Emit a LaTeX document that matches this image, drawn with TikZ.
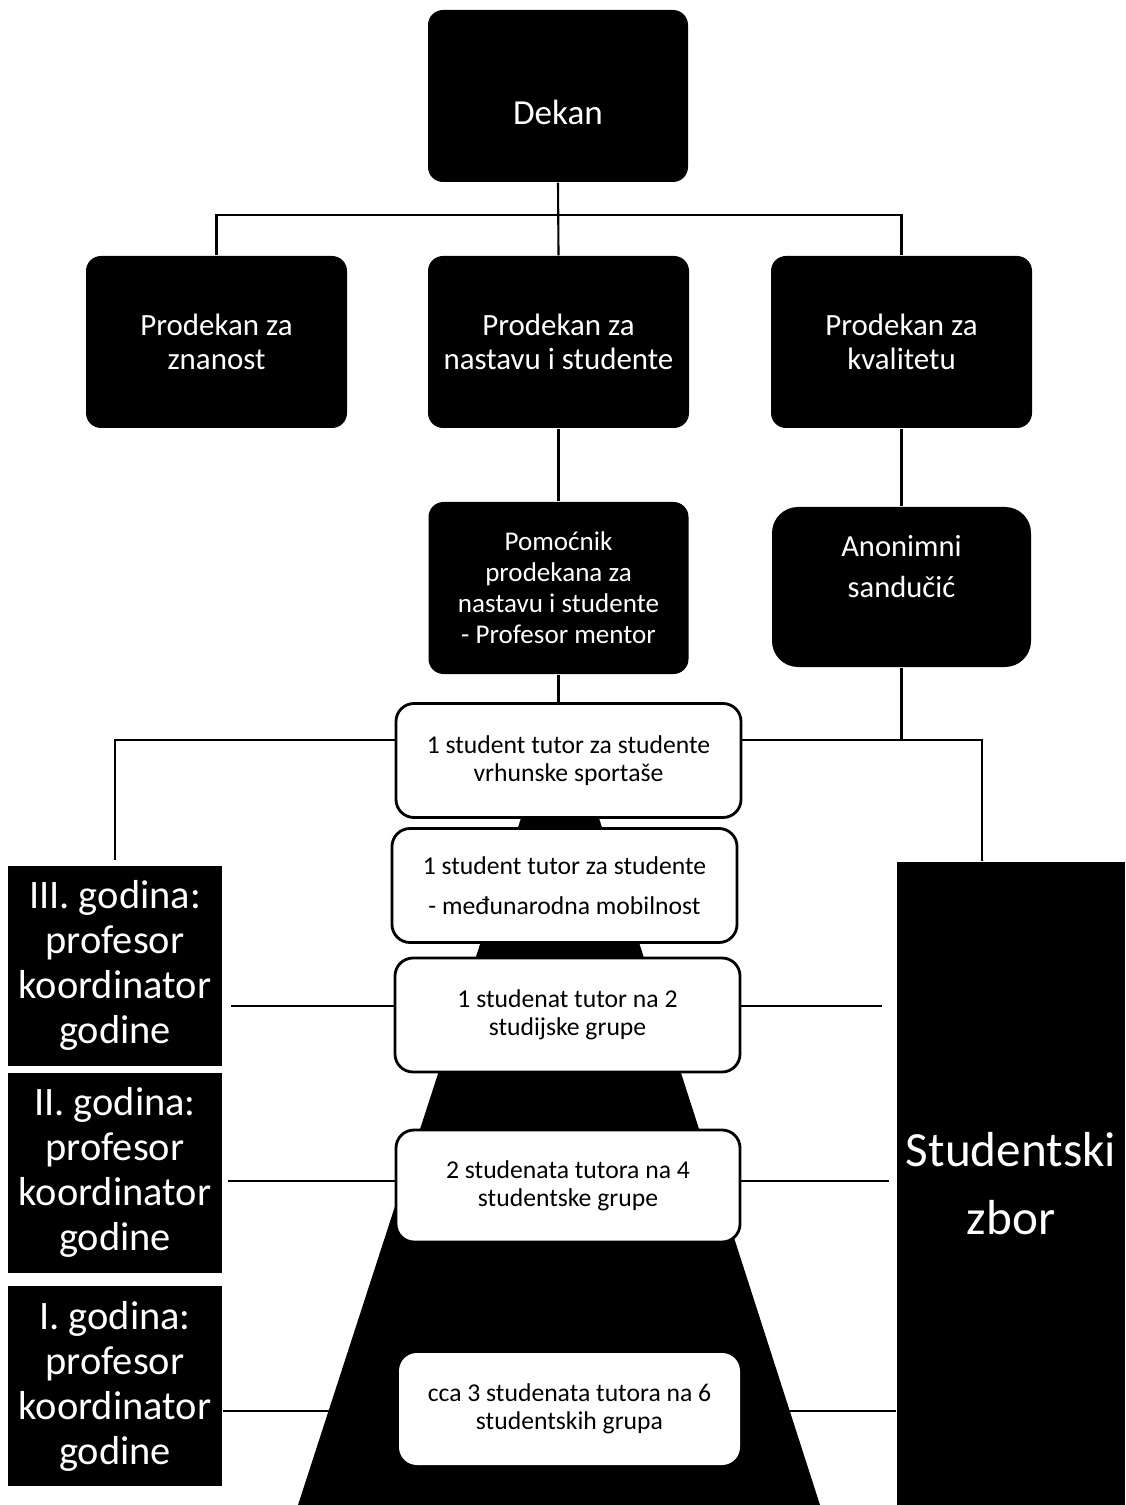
\documentclass[tikz,border=0pt]{standalone}
\usepackage{fontspec}
\setmainfont{Carlito}
\usepackage{tikz}
\usetikzlibrary{positioning}
\definecolor{crni}{RGB}{0, 0, 0}
\definecolor{bijeli}{RGB}{255, 255, 255}
\tikzset{
    uprava/.style={rectangle, rounded corners=0.15cm, fill=crni, text=bijeli, align=center, minimum width=2.6cm, minimum height=1.72cm, inner sep=1pt},
    tutor/.style={rectangle, rounded corners=0.18cm, draw=crni, fill=bijeli, line width=0.8pt, align=center, minimum width=3.45cm, minimum height=1.14cm, inner sep=1pt, font=\fontsize{7.3}{8}\selectfont},
    godina/.style={rectangle, fill=crni, text=bijeli, align=center, minimum width=2.14cm, minimum height=2cm, inner sep=1pt, font=\fontsize{11.5}{12.8}\selectfont},
    conn/.style={-, crni, line width=0.6pt},
}
\begin{document}
\begin{tikzpicture}
    \useasboundingbox (0,0) rectangle (11.25,-15.05);

    \node [uprava, label={[bijeli, yshift=-0.16cm, font=\fontsize{10}{12}\selectfont]center:Dekan}] (dek) at (5.58,-0.96) {};

    \node [uprava, minimum width=2.61cm, font=\fontsize{8.8}{9.8}\selectfont] (pz) at (2.165,-3.42) {Prodekan za\\znanost};
    \node [uprava, minimum width=2.61cm, font=\fontsize{8.8}{9.8}\selectfont] (pn) at (5.585,-3.42) {Prodekan za\\nastavu i studente};
    \node [uprava, minimum width=2.61cm, font=\fontsize{8.8}{9.8}\selectfont] (pk) at (9.015,-3.42) {Prodekan za\\kvalitetu};

    \node [uprava, font=\fontsize{7.7}{8.8}\selectfont] (pom) at (5.585,-5.88) {Pomoćnik\\prodekana za\\nastavu i studente\\- Profesor mentor};
    \node [uprava, rounded corners=0.26cm, minimum width=2.59cm, minimum height=1.6cm,
           label={[bijeli, yshift=0.2cm, align=center, font=\fontsize{8.7}{11.7}\selectfont]center:Anonimni\\sandučić}] (anon) at (9.015,-5.87) {};

    \node [godina] (y3) at (1.15,-9.655) {III. godina:\\profesor\\koordinator\\godine};
    \node [godina] (y2) at (1.15,-11.725) {II. godina:\\profesor\\koordinator\\godine};
    \node [godina] (y1) at (1.15,-13.86) {I. godina:\\profesor\\koordinator\\godine};

    \node [godina, minimum width=2.28cm, minimum height=6.43cm, font=\fontsize{14}{19.3}\selectfont] (sz) at (10.11,-11.835) {Studentski\\zbor};

    % veze
    \draw [conn] (dek.south) -- (pn.north);
    \draw [conn] (pz.north) -- ++(0,0.4) -| (pk.north);
    \draw [conn] (pn.south) -- (pom.north);
    \draw [conn] (pk.south) -- (anon.north);

    \coordinate (t1top) at (5.585,-7.03);
    \coordinate (t1lin) at (5.685,-7.40);
    \draw [conn] (pom.south) -- (t1top);
    \draw [conn, shorten >=0.05cm] (t1lin) -| (y3.north);
    \draw [conn] (anon.south) |- (t1lin);
    \draw [conn] (anon.south |- t1lin) -| ([xshift=-0.29cm]sz.north);

    \coordinate (t3lin) at (5.675,-10.06);
    \coordinate (t4lin) at (5.68,-11.81);
    \coordinate (t5lin) at (5.695,-14.11);
    \draw [conn, shorten >=0.08cm] (t3lin) -- (t3lin -| y3.east);
    \draw [conn, shorten >=0.14cm] (t3lin) -- (t3lin -| sz.west);
    \draw [conn, shorten >=0.05cm] (t4lin) -- (t4lin -| y2.east);
    \draw [conn, shorten >=0.07cm] (t4lin) -- (t4lin -| sz.west);
    \draw [conn] (t5lin) -- (t5lin -| y1.east);
    \draw [conn] (t5lin) -- (t5lin -| sz.west);

    % trapez
    \fill [crni] (5.22,-8.15) -- (5.98,-8.15) -- (8.20,-15.05) -- (2.98,-15.05) -- cycle;

    \node [tutor] (t1) at (5.685,-7.605) {1 student tutor za studente\\vrhunske sportaše};
    \node [tutor, font=\fontsize{7.3}{11.4}\selectfont] (t2) at (5.645,-8.855) {1 student tutor za studente\\- međunarodna mobilnost};
    \node [tutor] (t3) at (5.675,-10.15) {1 studenat tutor na 2\\studijske grupe};
    \node [tutor, minimum width=3.44cm, minimum height=1.12cm] (t4) at (5.68,-11.86) {2 studenata tutora na 4\\studentske grupe};
    \node [tutor, draw=none, minimum width=3.41cm, minimum height=1.12cm] (t5) at (5.695,-14.09) {cca 3 studenata tutora na 6\\studentskih grupa};
\end{tikzpicture}
\end{document}
